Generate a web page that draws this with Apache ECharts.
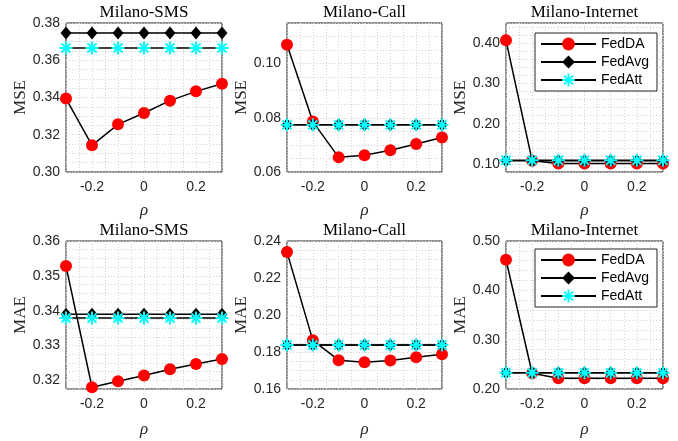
<!DOCTYPE html>
<html>
<head>
<meta charset="utf-8">
<title>FedDA rho</title>
<style>
  html, body { margin: 0; padding: 0; background: #fff; }
  #charts { width: 678px; height: 441px; }
</style>
</head>
<body>
<div id="charts"></div>
<script src="https://cdn.jsdelivr.net/npm/echarts@6/dist/echarts.min.js"></script>
<script>
// x values and tick labels
var rho = [-0.3, -0.2, -0.1, 0, 0.1, 0.2, 0.3];
var xTicks = [-0.2, 0, 0.2];
var seriesNames = ['FedDA', 'FedAvg', 'FedAtt'];
var titles = ['Milano-SMS', 'Milano-Call', 'Milano-Internet', 'Milano-SMS', 'Milano-Call', 'Milano-Internet'];
var yNames = ['MSE', 'MSE', 'MSE', 'MAE', 'MAE', 'MAE'];

// MSE
var smsMseDA  = [0.3394, 0.3143, 0.3256, 0.3317, 0.3383, 0.3433, 0.3474];
var smsMseAvg = [0.3746, 0.3746, 0.3746, 0.3746, 0.3746, 0.3746, 0.3746];
var smsMseAtt = [0.3666, 0.3666, 0.3666, 0.3666, 0.3666, 0.3666, 0.3666];
var callMseDA  = [0.1070, 0.0786, 0.0654, 0.0662, 0.0680, 0.0703, 0.0727];
var callMseAvg = [0.0774, 0.0774, 0.0774, 0.0774, 0.0774, 0.0774, 0.0774];
var callMseAtt = [0.0774, 0.0774, 0.0774, 0.0774, 0.0774, 0.0774, 0.0774];
var netMseDA  = [0.407, 0.108, 0.101, 0.101, 0.101, 0.101, 0.101];
var netMseAvg = [0.108, 0.108, 0.108, 0.108, 0.108, 0.108, 0.108];
var netMseAtt = [0.109, 0.109, 0.109, 0.109, 0.109, 0.109, 0.109];

// MAE
var smsMaeDA  = [0.3528, 0.3180, 0.3197, 0.3214, 0.3232, 0.3247, 0.3261];
var smsMaeAvg = [0.3390, 0.3390, 0.3390, 0.3390, 0.3390, 0.3390, 0.3390];
var smsMaeAtt = [0.3379, 0.3379, 0.3379, 0.3379, 0.3379, 0.3379, 0.3379];
var callMaeDA  = [0.2340, 0.1863, 0.1756, 0.1744, 0.1754, 0.1772, 0.1788];
var callMaeAvg = [0.1838, 0.1838, 0.1838, 0.1838, 0.1838, 0.1838, 0.1838];
var callMaeAtt = [0.1838, 0.1838, 0.1838, 0.1838, 0.1838, 0.1838, 0.1838];
var netMaeDA  = [0.462, 0.232, 0.222, 0.222, 0.222, 0.222, 0.222];
var netMaeAvg = [0.233, 0.233, 0.233, 0.233, 0.233, 0.233, 0.233];
var netMaeAtt = [0.233, 0.233, 0.233, 0.233, 0.233, 0.233, 0.233];

// y axis ranges / tick labels
var yMin  = [0.30, 0.06, 0.08, 0.3175, 0.16, 0.20];
var yMax  = [0.38, 0.115, 0.45, 0.36, 0.24, 0.50];
var yStep = [0.005, 0.005, 0.02, 0.0025, 0.005, 0.02];   // dotted grid spacing
var yTicks = [
  [0.30, 0.32, 0.34, 0.36, 0.38],
  [0.06, 0.08, 0.10],
  [0.10, 0.20, 0.30, 0.40],
  [0.32, 0.33, 0.34, 0.35, 0.36],
  [0.16, 0.18, 0.20, 0.22, 0.24],
  [0.20, 0.30, 0.40, 0.50]
];
var panelData = [
  [smsMseDA, smsMseAvg, smsMseAtt],
  [callMseDA, callMseAvg, callMseAtt],
  [netMseDA, netMseAvg, netMseAtt],
  [smsMaeDA, smsMaeAvg, smsMaeAtt],
  [callMaeDA, callMaeAvg, callMaeAtt],
  [netMaeDA, netMaeAvg, netMaeAtt]
];

// layout
var boxes = [
  {left: 66, top: 23, width: 156, height: 149},
  {left: 287, top: 23, width: 155, height: 149},
  {left: 506, top: 23, width: 157, height: 149},
  {left: 66, top: 241, width: 156, height: 148},
  {left: 287, top: 241, width: 155, height: 148},
  {left: 506, top: 241, width: 157, height: 148}
];

var starPath = 'path://M0,4.25L10,4.25L10,5.75L0,5.75Z M4.25,0L5.75,0L5.75,10L4.25,10Z M1.0,2.05L2.05,1.0L9.0,7.95L7.95,9.0Z M7.95,1.0L9.0,2.05L2.05,9.0L1.0,7.95Z';
var marks = [
  {symbol: 'circle', size: 12, color: '#ff0000'},
  {symbol: 'diamond', size: [11, 13], color: '#000000'},
  {symbol: starPath, size: 13, color: '#00ffff'}
];

var sans = '"Liberation Sans", Arial, sans-serif';
var serif = '"Liberation Serif", "Times New Roman", serif';
var gridLine = {show: true, lineStyle: {color: '#d2d2d2', width: 1, type: [1, 2]}};

function pts(arr) {
  return rho.map(function (r, i) { return [r, arr[i]]; });
}

var grids = [], xAxes = [], yAxes = [], series = [], graphics = [];
boxes.forEach(function (b, p) {
  grids.push({left: b.left, top: b.top, width: b.width, height: b.height,
    show: true, borderColor: '#262626', borderWidth: 1, backgroundColor: '#fff'});
  xAxes.push({
    type: 'value', gridIndex: p, min: -0.3, max: 0.3, interval: 0.05,
    axisLine: {show: false}, axisTick: {show: false},
    splitLine: gridLine,
    axisLabel: {customValues: xTicks, fontFamily: sans, fontSize: 14, color: '#262626', margin: 8,
      formatter: function (v) { return Math.abs(v) < 1e-9 ? '0' : v.toFixed(1); }},
    name: 'ρ', nameLocation: 'middle', nameGap: p < 3 ? 30 : 32,
    nameTextStyle: {fontFamily: serif, fontStyle: 'italic', fontSize: 17, color: '#262626'}
  });
  yAxes.push({
    type: 'value', gridIndex: p, min: yMin[p], max: yMax[p], interval: yStep[p],
    axisLine: {show: false}, axisTick: {show: false},
    splitLine: gridLine,
    axisLabel: {customValues: yTicks[p], fontFamily: sans, fontSize: 14, color: '#262626', margin: 6,
      formatter: function (v) { return v.toFixed(2); }},
    name: yNames[p], nameLocation: 'middle', nameGap: 37, nameRotate: 90,
    nameTextStyle: {fontFamily: serif, fontSize: 17, color: '#262626'}
  });
  panelData[p].forEach(function (d, s) {
    series.push({
      name: seriesNames[s], type: 'line', xAxisIndex: p, yAxisIndex: p,
      data: pts(d), symbol: marks[s].symbol, symbolSize: marks[s].size,
      showAllSymbol: true, clip: false, z: 2 + s,
      lineStyle: {color: '#000', width: 1.5},
      itemStyle: {color: marks[s].color, borderWidth: 0}
    });
  });
  graphics.push({
    type: 'text', x: b.left + b.width / 2, y: b.top - 10,
    style: {text: titles[p], font: '17px ' + serif, fill: '#000', textAlign: 'center', textVerticalAlign: 'middle'}
  });
});

function legendAt(top) {
  return {
    orient: 'vertical', left: 535, top: top, itemWidth: 55, itemHeight: 16, itemGap: 4,
    padding: [4, 8, 4, 5], backgroundColor: '#fff', borderColor: '#262626', borderWidth: 1,
    textStyle: {fontFamily: sans, fontSize: 14, color: '#000'},
    data: seriesNames, selectedMode: false
  };
}

var myChart = echarts.init(document.getElementById('charts'));
myChart.setOption({
  animation: false,
  backgroundColor: '#fff',
  grid: grids,
  xAxis: xAxes,
  yAxis: yAxes,
  legend: [legendAt(33), legendAt(249)],
  graphic: graphics,
  series: series
});
</script>
</body>
</html>
